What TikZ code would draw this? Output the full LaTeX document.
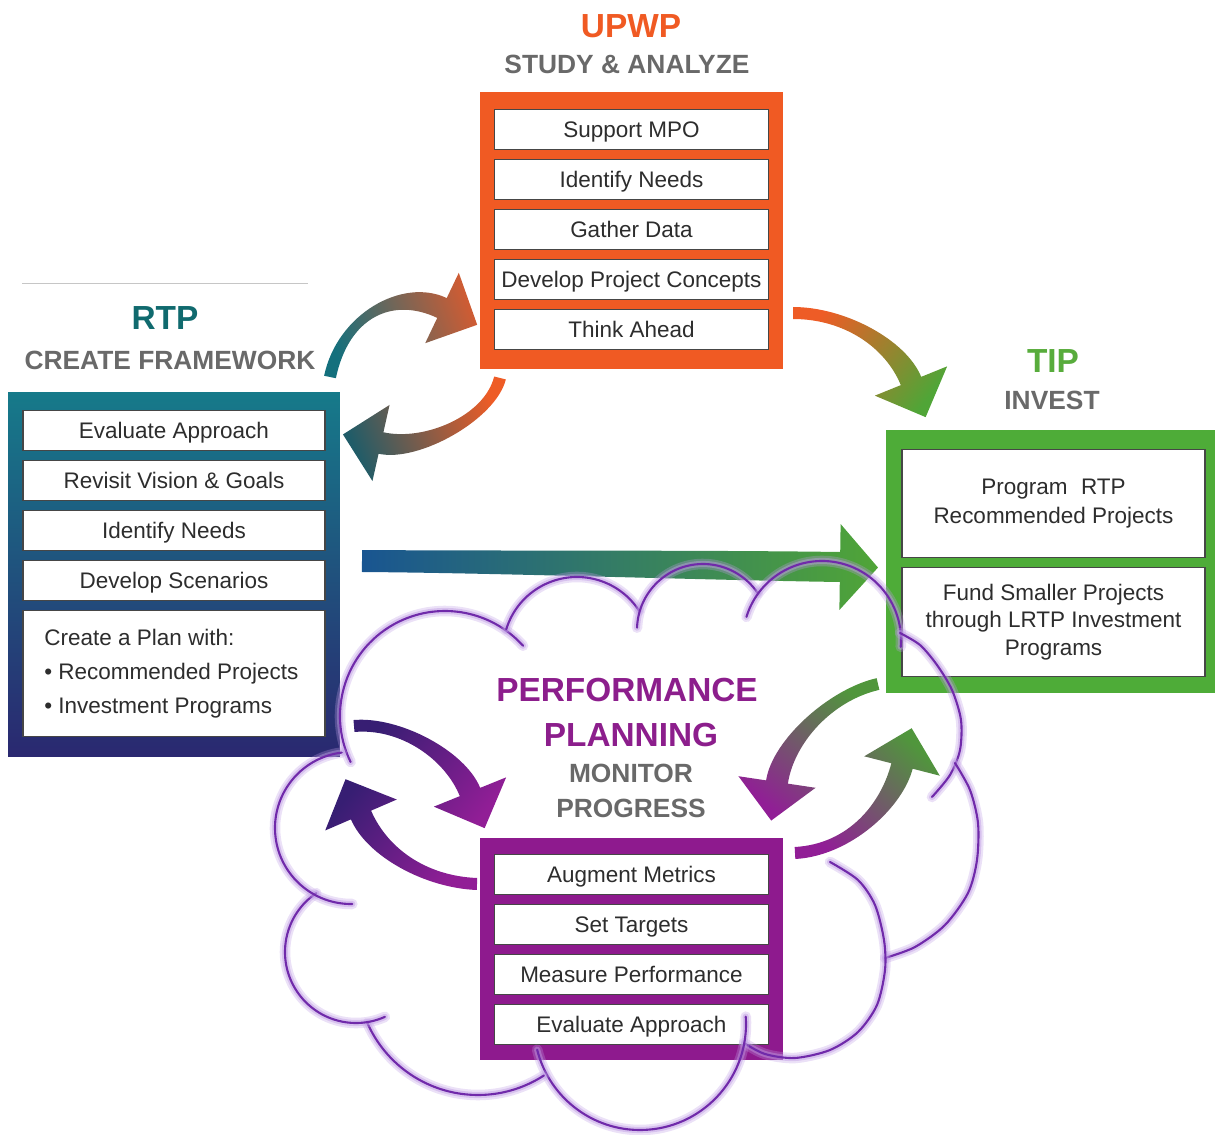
\documentclass[tikz,border=0pt]{standalone}
\usepackage{fontspec}
\setmainfont{Liberation Sans}
\usepackage{xcolor}
\definecolor{upwporange}{RGB}{240,90,35}
\definecolor{rtpteal}{RGB}{22,122,138}
\definecolor{rtpnavy}{RGB}{42,40,112}
\definecolor{tipgreen}{RGB}{78,172,56}
\definecolor{pppurple}{RGB}{142,26,142}
\definecolor{titleteal}{RGB}{16,106,110}
\definecolor{titlegreen}{RGB}{88,172,60}
\definecolor{titlepurple}{RGB}{140,30,140}
\definecolor{subgray}{RGB}{105,105,105}
\definecolor{itemedge}{RGB}{70,70,70}
\definecolor{itemtext}{RGB}{45,45,45}
\definecolor{cloudpurple}{RGB}{112,42,170}
\definecolor{cloudglow}{RGB}{190,155,228}
\definecolor{arrowteal}{RGB}{20,112,125}
\definecolor{arrowrust}{RGB}{205,92,52}
\definecolor{arroworange}{RGB}{238,92,38}
\definecolor{arrowdteal}{RGB}{32,92,104}
\definecolor{arrowgreen}{RGB}{80,165,55}
\definecolor{arrowblue}{RGB}{25,85,145}
\definecolor{arrowindigo}{RGB}{55,30,115}
\definecolor{arrowpurple}{RGB}{145,30,150}
\definecolor{arrowsage}{RGB}{80,150,60}
\usepackage{tikz}
\usetikzlibrary{positioning, calc}

% half widths of the curved block arrows
\newcommand{\tailw}{0.12cm}
\newcommand{\shaftw}{0.22cm}
\newcommand{\headw}{0.78cm}
\newcommand{\headl}{0.78cm}
% #1 shading, #2 tail, #3 #4 bend handles, #5 head base
\newcommand{\blockarrow}[5]{%
  \shade[#1]
    ($(#2)!\tailw!90:(#3)$)
      .. controls ($(#3)!\tailw!-90:(#2)$) and ($(#4)!\shaftw!90:(#5)$) ..
    ($(#5)!\shaftw!-90:(#4)$)
    -- ($(#5)!\headw!-90:(#4)$)
    -- ($(#5)!-\headl!(#4)$)
    -- ($(#5)!\headw!90:(#4)$)
    -- ($(#5)!\shaftw!90:(#4)$)
      .. controls ($(#4)!\shaftw!-90:(#5)$) and ($(#3)!\tailw!90:(#2)$) ..
    ($(#2)!\tailw!-90:(#3)$) -- cycle;}

\begin{document}
\begin{tikzpicture}[
    x=0.02cm, y=-0.02cm,
    panel/.style={rectangle, draw=none, inner sep=0pt},
    item/.style={rectangle, draw=itemedge, line width=0.9pt, fill=white, outer sep=0pt, minimum width=#1, minimum height=0.8cm, inner xsep=2pt, inner ysep=0pt, text height=9.2pt, text depth=0pt, align=center, text=itemtext, font=\fontsize{12.8}{15.4}\selectfont},
    item/.default=5.48cm,
    stagetitle/.style={font=\fontsize{19}{22}\selectfont\bfseries},
    stagesub/.style={font=\fontsize{15}{18}\selectfont\bfseries, text=subgray},
    cloudline/.style={draw=cloudpurple, line width=1.2pt, line cap=round,
      preaction={draw=cloudglow, line width=6pt, line cap=round, opacity=0.3},
      preaction={draw=cloudglow, line width=3.5pt, line cap=round, opacity=0.45}}
  ]
  \useasboundingbox (0,0) rectangle (1215,1135);

  \draw[line width=0.5pt, gray!45] (22,283) -- (308,283);

  % UPWP
  \node[stagetitle, text=upwporange] (upwptitle) at (631,26) {UPWP};
  \node[stagesub] (upwpsub) at (627,64) {STUDY \& ANALYZE};
  \node[panel, fill=upwporange, minimum width=6.06cm, minimum height=5.54cm] (upwp) at (631.5,230.5) {};
  \node[item, below=0.36cm of upwp.north] (upwp1) {Support MPO};
  \node[item, below=0.2cm of upwp1] (upwp2) {Identify Needs};
  \node[item, below=0.2cm of upwp2] (upwp3) {Gather Data};
  \node[item, below=0.2cm of upwp3] (upwp4) {Develop Project Concepts};
  \node[item, below=0.2cm of upwp4] (upwp5) {Think Ahead};

  % RTP
  \node[stagetitle, text=titleteal] (rtptitle) at (165,318) {RTP};
  \node[stagesub] (rtpsub) at (170,360) {CREATE FRAMEWORK};
  \node[panel, top color=rtpteal, bottom color=rtpnavy, minimum width=6.64cm, minimum height=7.3cm] (rtp) at (174,574.5) {};
  \node[item=6.04cm, below=0.38cm of rtp.north] (rtp1) {Evaluate Approach};
  \node[item=6.04cm, below=0.2cm of rtp1] (rtp2) {Revisit Vision \& Goals};
  \node[item=6.04cm, below=0.2cm of rtp2] (rtp3) {Identify Needs};
  \node[item=6.04cm, below=0.2cm of rtp3] (rtp4) {Develop Scenarios};
  \node[item=6.04cm, below=0.2cm of rtp4, minimum height=2.52cm] (rtp5) {};
  \node[anchor=north west, inner sep=0pt, align=left, text=itemtext, font=\fontsize{12.8}{19.3}\selectfont] (rtp5text)
    at ($(rtp5.north west)+(0.42cm,-0.36cm)$)
    {Create a Plan with:\\ \textbullet\ Recommended Projects\\ \textbullet\ Investment Programs};

  % TIP
  \node[stagetitle, text=titlegreen] (tiptitle) at (1053,361) {TIP};
  \node[stagesub] (tipsub) at (1052,400) {INVEST};
  \node[panel, fill=tipgreen, minimum width=6.7cm, minimum height=5.26cm] (tip) at (1053.5,561.5) {};
  \node[item=6.06cm, text height=, text depth=, minimum height=2.16cm, below=0.4cm of tip.north, font=\fontsize{12.8}{17}\selectfont] (tip1)
    {Program\hspace{0.6em}RTP\\Recommended Projects};
  \node[item=6.06cm, text height=, text depth=, minimum height=2.18cm, below=0.2cm of tip1, font=\fontsize{12.8}{15.6}\selectfont] (tip2)
    {Fund Smaller Projects\\through LRTP Investment\\Programs};

  % performance planning
  \node[stagetitle, text=titlepurple] (pptitle) at (627,690) {PERFORMANCE};
  \node[stagetitle, text=titlepurple] (pptitle2) at (631,735) {PLANNING};
  \node[stagesub] (ppsub) at (631,773) {MONITOR};
  \node[stagesub] (ppsub2) at (631,808) {PROGRESS};
  \node[panel, fill=pppurple, minimum width=6.06cm, minimum height=4.44cm] (pp) at (631.5,949) {};
  \node[item, below=0.34cm of pp.north] (pp1) {Augment Metrics};
  \node[item, below=0.2cm of pp1] (pp2) {Set Targets};
  \node[item, below=0.2cm of pp2] (pp3) {Measure Performance};
  \node[item, below=0.2cm of pp3] (pp4) {Evaluate Approach};

  % arrow ends
  \coordinate (ru-t) at (330,377);  \coordinate (ru-h) at (442,308);
  \coordinate (ur-t) at (500,378);  \coordinate (ur-h) at (381,443);
  \coordinate (ut-t) at (793,313);  \coordinate (ut-h) at (911,381);
  \coordinate (rt-t) at (362,561);  \coordinate (rt-h) at (840,567);
  \coordinate (rp-t) at (354,726);  \coordinate (rp-h) at (470,792);
  \coordinate (pr-t) at (477,884);  \coordinate (pr-h) at (361,815);
  \coordinate (tp-t) at (878,684);  \coordinate (tp-h) at (777,782);
  \coordinate (pt-t) at (795,853);  \coordinate (pt-h) at (902,766);

  \blockarrow{top color=arrowteal, bottom color=arrowrust, shading angle=110}{ru-t}{343,315}{398,287}{ru-h}
  \blockarrow{top color=arroworange, bottom color=arrowdteal, shading angle=-69}{ur-t}{490,418}{421,452}{ur-h}
  \blockarrow{top color=arroworange, bottom color=arrowgreen, shading angle=52}{ut-t}{845,313}{896,344}{ut-h}
  {\renewcommand{\tailw}{0.22cm}\renewcommand{\shaftw}{0.3cm}\renewcommand{\headw}{0.86cm}\renewcommand{\headl}{0.76cm}%
  \blockarrow{top color=arrowblue, bottom color=arrowgreen, shading angle=90}{rt-t}{500,562}{700,565}{rt-h}}
  \blockarrow{top color=arrowindigo, bottom color=arrowpurple, shading angle=52}{rp-t}{400,722}{455,755}{rp-h}
  \blockarrow{top color=arrowpurple, bottom color=arrowindigo, shading angle=-129}{pr-t}{425,882}{377,852}{pr-h}
  \blockarrow{top color=arrowsage, bottom color=arrowpurple, shading angle=-38}{tp-t}{830,695}{783,742}{tp-h}
  \blockarrow{top color=arrowpurple, bottom color=arrowsage, shading angle=137}{pt-t}{850,850}{892,805}{pt-h}

  % cloud outline, one stroke per bump
  \draw[cloudline] (445,716) ++(154:105) arc[start angle=154, end angle=318, radius=105];
  \draw[cloudline] (577,651) ++(197:74) arc[start angle=197, end angle=327, radius=74];
  \draw[cloudline] (703,630) ++(182:66) arc[start angle=182, end angle=326, radius=66];
  \draw[cloudline] (822,640) ++(197:79) arc[start angle=197, end angle=365, radius=79];
  \draw[cloudline] plot[smooth] coordinates {(900,633) (920,645) (937,665) (952,690) (961,720) (960,750) (950,775) (932,797)};
  \draw[cloudline] plot[smooth] coordinates {(955,763) (970,790) (978,823) (977,860) (968,893) (945,925) (915,947) (885,958)};
  \draw[cloudline] plot[smooth] coordinates {(830,862) (858,880) (875,905) (884,940) (885,970) (877,1005) (858,1032) (830,1050) (795,1058) (765,1054) (744,1043)};
  \draw[cloudline] (640,1024) ++(-4:106) arc[start angle=-4, end angle=166, radius=106];
  \draw[cloudline] (478,974) ++(57:121) arc[start angle=57, end angle=156, radius=121];
  \draw[cloudline] (356,952) ++(236:71) arc[start angle=236, end angle=66, radius=71];
  \draw[cloudline] (351,828) ++(263:76) arc[start angle=263, end angle=89, radius=76];

\end{tikzpicture}
\end{document}
